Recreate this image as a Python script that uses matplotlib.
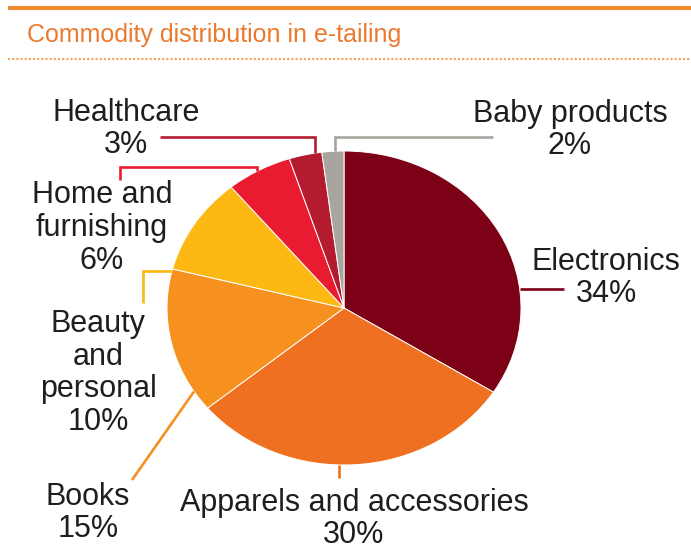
"""Commodity distribution pie chart with call-out labels."""
import numpy as np
import matplotlib

matplotlib.use("Agg")
import matplotlib.pyplot as plt

W, H = 691, 550

categories = ["Electronics", "Apparels and accessories", "Books",
              "Beauty\nand\npersonal", "Home and\nfurnishing", "Healthcare",
              "Baby products"]
shares = [34, 30, 15, 10, 6, 3, 2]
colors = ["#7c0016", "#f07022", "#f6901f", "#fdb814", "#e91b31", "#b51b2e", "#a8a49f"]

# label block centre (px) and leader path: anchor angle on the rim, then bends in px
layout = [
    dict(pos=(606, 278), angle=7.0, path=[(564, None)]),
    dict(pos=(354, 519), angle=-91.5, path=[(None, 478)]),
    dict(pos=(88, 513), angle=-147.9, path=[(132, 480)]),
    dict(pos=(98, 373), angle=166.5, path=[(143, None), (143, 303)]),
    dict(pos=(102, 228), angle=119.4, path=[(None, 167), (120, 167), (120, 180)]),
    dict(pos=(126, 129), angle=99.4, path=[(None, 137), (160, 137)]),
    dict(pos=(570, 130), angle=92.9, path=[(None, 137), (493, 137)]),
]

# pie bounding box in px (slightly wider than tall)
px_left, px_right, px_top, px_bottom = 167, 521, 151, 465

fig = plt.figure(figsize=(W / 100, H / 100), dpi=100)
fig.patch.set_facecolor("white")

ax = fig.add_axes([px_left / W, 1 - px_bottom / H,
                   (px_right - px_left) / W, (px_bottom - px_top) / H])
ax.pie(shares, colors=colors, startangle=90, counterclock=False,
       wedgeprops=dict(edgecolor="white", linewidth=0.7))
ax.set_aspect("auto")
ax.set_xlim(-1, 1)
ax.set_ylim(-1, 1)
ax.axis("off")

ann = fig.add_axes([0, 0, 1, 1], zorder=3)
ann.set_xlim(0, W)
ann.set_ylim(H, 0)
ann.axis("off")
ann.patch.set_alpha(0)

to_ann = ax.transData + ann.transData.inverted()

# header rules and title
ann.plot([8, W], [7.5, 7.5], color="#f28a30", lw=3, solid_capstyle="butt")
ann.plot([8, W], [59, 59], color="#f5a25a", lw=1.5, linestyle=(0, (1, 1)))
ann.text(27, 42, "Commodity distribution in e-tailing", color="#ec7a2e",
         fontsize=18, family="Liberation Sans", va="baseline", ha="left")

total = sum(shares)
for text, share, color, lay in zip(categories, shares, colors, layout):
    a = np.deg2rad(lay["angle"])
    x0, y0 = to_ann.transform((np.cos(a), np.sin(a)))
    xs, ys = [x0], [y0]
    for px, py in lay["path"]:
        xs.append(xs[-1] if px is None else px)
        ys.append(ys[-1] if py is None else py)
    ann.plot(xs, ys, color=color, lw=1.9, solid_capstyle="butt",
             solid_joinstyle="miter")
    pct = round(100 * share / total)
    ann.text(lay["pos"][0], lay["pos"][1], f"{text}\n{pct}%", ha="center",
             va="center", multialignment="center", linespacing=1.12,
             fontsize=22, family="Liberation Sans", color="#1e1e1e")

fig.savefig("out.png", dpi=100)
